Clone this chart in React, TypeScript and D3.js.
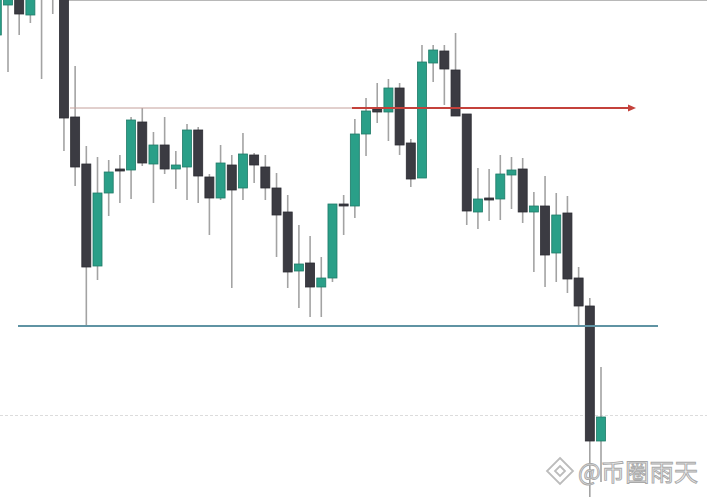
import React from "react";
import * as d3 from "d3";

// Candle data (price units), index 0..54 (first candle partly cut off at left)
const opens = [465, 495, 510, 485, 540, 530, 520, 383, 336, 234, 307, 331, 330, 378, 336, 355, 331, 333, 370, 323, 302, 335, 312, 345, 333, 312, 288, 229, 237, 213, 222, 296, 294, 366, 391, 388, 412, 357, 322, 437, 449, 430, 386, 288, 302, 301, 325, 331, 288, 294, 247, 287, 222, 194, 59];
const highs = [540, 520, 520, 515, 550, 540, 530, 434, 354, 343, 340, 345, 383, 392, 368, 383, 349, 376, 373, 326, 355, 345, 367, 347, 345, 327, 305, 275, 264, 243, 296, 305, 381, 402, 417, 421, 417, 361, 455, 455, 455, 467, 386, 332, 331, 345, 343, 342, 308, 324, 307, 304, 233, 202, 133];
const lows = [465, 428, 465, 477, 421, 486, 349, 314, 173, 220, 284, 297, 301, 334, 297, 326, 311, 300, 297, 265, 300, 212, 300, 317, 300, 243, 212, 192, 183, 183, 218, 265, 282, 344, 377, 359, 345, 313, 322, 418, 395, 384, 275, 271, 279, 280, 291, 277, 228, 213, 218, 207, 173, 3, 18];
const closes = [530, 510, 486, 505, 505, 503, 382, 333, 233, 307, 328, 329, 380, 337, 355, 331, 335, 370, 324, 302, 337, 310, 346, 335, 312, 285, 228, 236, 213, 222, 296, 294, 366, 389, 388, 412, 355, 321, 438, 450, 431, 384, 289, 301, 301, 326, 330, 288, 294, 245, 285, 221, 194, 59, 83];

const resistanceLevel = [392];
const supportLevel = [174];
const watermark = ["@币圈雨天"];

const W = 707;
const H = 497;
const UP = "#2a9f88";
const UP_STROKE = "#1f7a68";
const DOWN = "#3b3b42";
const WICK = "#a3a3a3";

export default function App() {
  const n = opens.length;
  const x = d3.scaleLinear().domain([1, n - 1]).range([8, 601]);
  const y = d3.scaleLinear().domain([0, 500]).range([500, 0]);
  const bw = 9;
  const candles = d3.range(n).map((i) => ({
    i,
    o: opens[i],
    h: highs[i],
    l: lows[i],
    c: closes[i],
  }));
  const ry = y(resistanceLevel[0]);
  const sy = y(supportLevel[0]);

  return (
    <div style={{ position: "absolute", left: 0, top: 0, width: W, height: H, background: "#fff" }}>
      <svg width={W} height={H} style={{ display: "block" }}>
        <rect width={W} height={H} fill="#fff" />
        <line x1={60} x2={W} y1={0.5} y2={0.5} stroke="#b8b8b8" strokeWidth={1} />
        {/* faint dotted line near bottom */}
        <line x1={0} x2={W} y1={415.5} y2={415.5} stroke="#dcdcdc" strokeWidth={1} strokeDasharray="3,2" />
        {/* wicks */}
        {candles.map((d) => (
          <line
            key={"w" + d.i}
            x1={x(d.i)}
            x2={x(d.i)}
            y1={y(d.h)}
            y2={y(d.l)}
            stroke={WICK}
            strokeWidth={1.6}
          />
        ))}
        {/* bodies */}
        {candles.map((d) => {
          const up = d.c > d.o;
          const top = y(Math.max(d.o, d.c));
          const bot = y(Math.min(d.o, d.c));
          const hgt = Math.max(2, bot - top);
          return (
            <rect
              key={"b" + d.i}
              x={x(d.i) - bw / 2}
              y={top}
              width={bw}
              height={hgt}
              fill={up ? UP : DOWN}
              stroke={up ? UP_STROKE : "#2c2c32"}
              strokeWidth={0.8}
            />
          );
        })}
        {/* support line */}
        <line x1={18} x2={658} y1={sy} y2={sy} stroke="#5f93a3" strokeWidth={1.8} />
        {/* resistance line */}
        <line x1={70} x2={352} y1={ry} y2={ry} stroke="#c4a09b" strokeWidth={1} />
        <line x1={352} x2={630} y1={ry} y2={ry} stroke="#c4413b" strokeWidth={2} />
        <path
          d={`M${628},${ry - 3.5} L${636},${ry} L${628},${ry + 3.5} Z`}
          fill="#c4413b"
        />
        {/* watermark */}
        <g transform="translate(560,471)" fill="none" stroke="#bcbcbc" strokeWidth={1.8}>
          <path d="M0,-13 L13,0 L0,13 L-13,0 Z" />
          <path d="M0,-5 L5,0 L0,5 L-5,0 Z" />
        </g>
        <text
          x={578}
          y={481}
          fontFamily="'Noto Sans CJK SC', sans-serif"
          fontSize={24}
          fill="#efefef"
          stroke="#a8a8a8"
          strokeWidth={0.9}
          textLength={120}
        >
          {watermark[0]}
        </text>
      </svg>
    </div>
  );
}
